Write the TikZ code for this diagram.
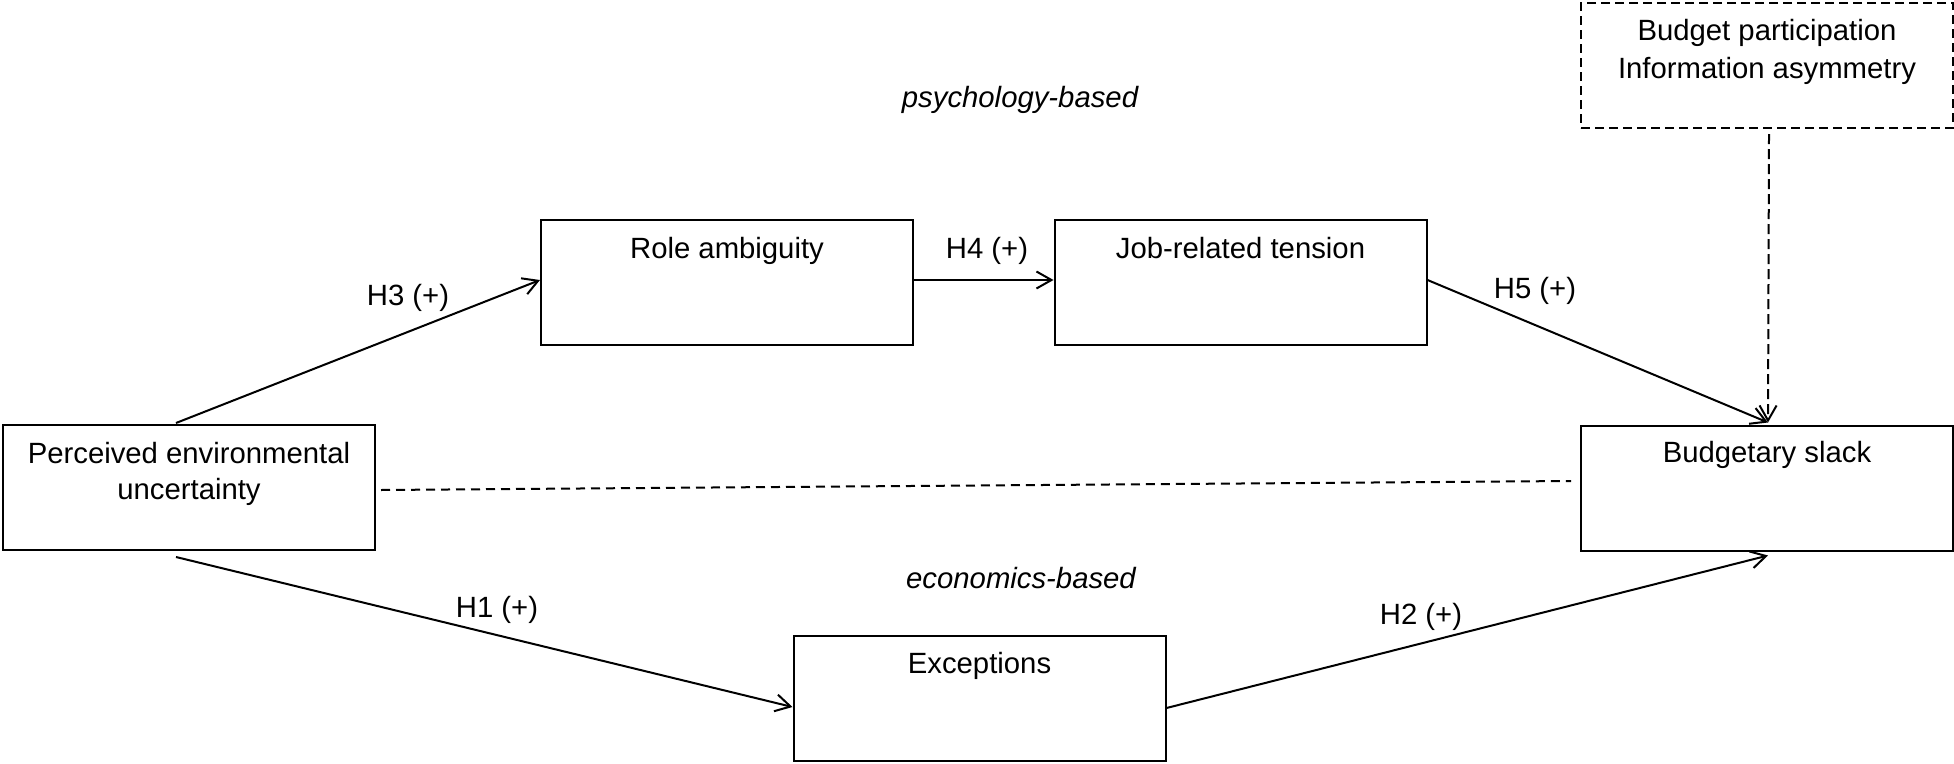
\documentclass[tikz,border=0pt]{standalone}
\usepackage{fontspec}
\setmainfont{Liberation Sans}
\usetikzlibrary{arrows.meta}
\begin{document}
\begin{tikzpicture}[x=1pt,y=-1pt,
  box/.style={draw=black, line width=2pt, minimum width=372pt, minimum height=125pt, inner sep=0pt},
  modbox/.style={box, dash pattern=on 9pt off 5pt},
  txt/.style={font=\fontsize{29.3}{33}\selectfont, inner sep=0pt, anchor=base},
  itxt/.style={txt, font=\fontsize{29.3}{33}\selectfont\itshape},
  arr/.style={line width=2pt, -{Straight Barb[length=15pt,width=17pt]}},
  dasharr/.style={arr, dash pattern=on 10pt off 5pt},
  dashln/.style={line width=2pt, dash pattern=on 9pt off 6pt}
]
\useasboundingbox (0,0) rectangle (1954,763);

% boxes
\node[box] (peu) at (189,487.5) {};
\node[box] (ra)  at (727,282.5) {};
\node[box] (jt)  at (1240.5,282.5) {};
\node[box] (bs)  at (1767,488) {};
\node[box] (ex)  at (979.5,698) {};
\node[modbox] (mod) at (1767,65.5) {};

% box texts
\node[txt] (peu1) at (189,463) {Perceived environmental};
\node[txt] (peu2) at (189,499) {uncertainty};
\node[txt] (rat) at (727,258) {Role ambiguity};
\node[txt] (jtt) at (1240.5,258) {Job-related tension};
\node[txt] (bst) at (1767,462) {Budgetary slack};
\node[txt] (ext) at (979.5,673) {Exceptions};
\node[txt] (mod1) at (1767,40) {Budget participation};
\node[txt] (mod2) at (1767,78) {Information asymmetry};

% path labels
\node[itxt] (psy) at (1020,107) {psychology-based};
\node[itxt] (eco) at (1021,588) {economics-based};

% psychology-based path
\draw[arr] ([xshift=-13pt,yshift=1pt]peu.north) -- ([yshift=2.5pt]ra.west)
  node[txt] (h3) at (408,305) {H3 (+)};
\draw[arr] ([yshift=2.5pt]ra.east) -- ([yshift=2.5pt]jt.west)
  node[txt] (h4) at (987,258) {H4 (+)};
\draw[arr] ([yshift=2.5pt]jt.east) -- ([xshift=1pt,yshift=2pt]bs.north)
  node[txt] (h5) at (1535,298) {H5 (+)};

% moderators
\draw[dasharr] ([xshift=2pt,yshift=-5pt]mod.south) -- ([xshift=1pt,yshift=2pt]bs.north);

% direct link
\draw[dashln] ([xshift=5pt,yshift=-2.5pt]peu.east) -- ([xshift=-9pt,yshift=7pt]bs.west);

% economics-based path
\draw[arr] ([xshift=-13pt,yshift=-6pt]peu.south) -- ([yshift=-9pt]ex.west)
  node[txt] (h1) at (497,617) {H1 (+)};
\draw[arr] ([yshift=-10pt]ex.east) -- ([xshift=1pt,yshift=-4pt]bs.south)
  node[txt] (h2) at (1421,624) {H2 (+)};
\end{tikzpicture}
\end{document}
